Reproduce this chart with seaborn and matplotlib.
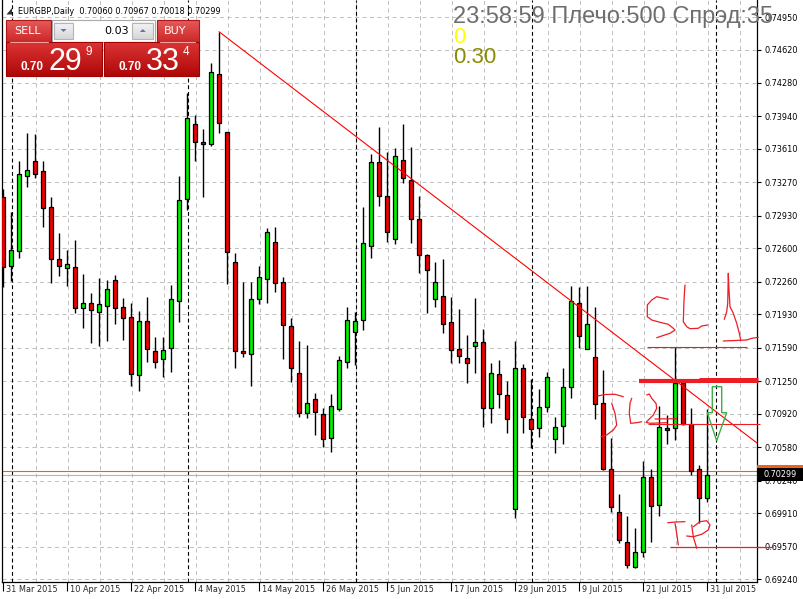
import numpy as np
import pandas as pd
import matplotlib
matplotlib.use("Agg")
import matplotlib.pyplot as plt
import matplotlib.transforms as mtrans
from matplotlib.colors import LinearSegmentedColormap
from matplotlib.patches import Rectangle, Polygon
import seaborn as sns

sns.set_style("white")
plt.rcParams['font.family'] = ['DejaVu Sans']

# ---------------- data ----------------
symbol = "EURGBP"
timeframe = "Daily"
dates = pd.bdate_range("2015-03-31", "2015-07-31")

opens = [0.73118, 0.72417, 0.72570, 0.73332, 0.73487, 0.73386, 0.73017, 0.72489, 0.72397, 0.72407,
         0.71991, 0.72042, 0.71956, 0.72011, 0.72275, 0.72001, 0.71899, 0.71310, 0.71859, 0.71554,
         0.71473, 0.71584, 0.72062, 0.73098, 0.73860, 0.73680, 0.73657, 0.74371, 0.73779, 0.72464,
         0.71557, 0.71523, 0.72082, 0.72285, 0.72661, 0.72255, 0.71808, 0.71330, 0.70924, 0.71069,
         0.70914, 0.70670, 0.70965, 0.71442, 0.71753, 0.71869, 0.72624, 0.73474, 0.73129, 0.72692,
         0.73494, 0.73294, 0.72895, 0.72532, 0.72090, 0.72116, 0.71848, 0.71574, 0.71483, 0.71605,
         0.71645, 0.70975, 0.71320, 0.71107, 0.69949, 0.71381, 0.70863, 0.70771, 0.70985, 0.70660,
         0.70795, 0.71188, 0.72042, 0.71574, 0.71499, 0.71026, 0.70361, 0.69924, 0.69619, 0.69359,
         0.69512, 0.70274, 0.69989, 0.70771, 0.70771, 0.71229, 0.70815, 0.70355, 0.70060]
highs = [0.73203, 0.72966, 0.73487, 0.73775, 0.73762, 0.73487, 0.73122, 0.72756, 0.72583, 0.72685,
         0.72339, 0.72146, 0.72296, 0.72278, 0.72329, 0.72092, 0.72048, 0.71963, 0.72106, 0.71699,
         0.71699, 0.72227, 0.73335, 0.74181, 0.73955, 0.73812, 0.74480, 0.74801, 0.73785, 0.72550,
         0.72255, 0.72255, 0.72420, 0.72804, 0.72820, 0.72306, 0.71889, 0.71658, 0.71618, 0.71127,
         0.70975, 0.71120, 0.71506, 0.72007, 0.71950, 0.73023, 0.73558, 0.73830, 0.73582, 0.73616,
         0.73863, 0.73626, 0.73132, 0.72545, 0.72461, 0.72492, 0.72109, 0.71981, 0.71719, 0.72098,
         0.71777, 0.71435, 0.71465, 0.71252, 0.71658, 0.71422, 0.71269, 0.71168, 0.71344, 0.70889,
         0.71381, 0.72217, 0.72210, 0.72217, 0.72007, 0.71364, 0.70670, 0.70104, 0.69880, 0.69756,
         0.70439, 0.70355, 0.71001, 0.70907, 0.71594, 0.71269, 0.70975, 0.70399, 0.70967]
lows = [0.72204, 0.72271, 0.72505, 0.73226, 0.73318, 0.72820, 0.72251, 0.72319, 0.72220, 0.71946,
        0.71794, 0.71641, 0.71611, 0.71658, 0.71834, 0.71669, 0.71201, 0.71154, 0.71448, 0.71387,
        0.71296, 0.71347, 0.71855, 0.72989, 0.73490, 0.73125, 0.73643, 0.73769, 0.72238, 0.71387,
        0.71499, 0.71201, 0.72031, 0.72042, 0.72156, 0.71479, 0.71245, 0.70889, 0.70879, 0.70703,
        0.70585, 0.70534, 0.70950, 0.71381, 0.71415, 0.71770, 0.72505, 0.73030, 0.72667, 0.72641,
        0.73261, 0.72651, 0.72346, 0.71940, 0.72007, 0.71737, 0.71432, 0.71432, 0.71235, 0.71330,
        0.70788, 0.70828, 0.70981, 0.70727, 0.69857, 0.70721, 0.70568, 0.70686, 0.70940, 0.70524,
        0.70609, 0.71076, 0.71584, 0.71574, 0.70863, 0.70350, 0.69918, 0.69603, 0.69349, 0.69355,
        0.69461, 0.69619, 0.69877, 0.70612, 0.70653, 0.70805, 0.70297, 0.69809, 0.70018]
closes = [0.72407, 0.72580, 0.73352, 0.73396, 0.73352, 0.73007, 0.72489, 0.72417, 0.72438, 0.71991,
          0.72042, 0.71970, 0.72031, 0.72184, 0.71997, 0.71889, 0.71320, 0.71859, 0.71574, 0.71442,
          0.71564, 0.72082, 0.73088, 0.73921, 0.73677, 0.73660, 0.74395, 0.73870, 0.72566, 0.71557,
          0.71534, 0.72082, 0.72306, 0.72763, 0.72245, 0.71818, 0.71387, 0.70924, 0.71026, 0.70940,
          0.70660, 0.70995, 0.71465, 0.71869, 0.71859, 0.72651, 0.73474, 0.73129, 0.72763, 0.73541,
          0.73312, 0.72895, 0.72532, 0.72377, 0.72263, 0.71828, 0.71564, 0.71503, 0.71432, 0.71645,
          0.70975, 0.71330, 0.71117, 0.70863, 0.71381, 0.70883, 0.70761, 0.70991, 0.71290, 0.70782,
          0.71188, 0.72068, 0.71706, 0.71828, 0.71015, 0.70355, 0.69969, 0.69637, 0.69383, 0.69512,
          0.70274, 0.69982, 0.70782, 0.70751, 0.71229, 0.70815, 0.70341, 0.70060, 0.70299]

ytick_values = [0.74950, 0.74620, 0.74280, 0.73940, 0.73610, 0.73270, 0.72930, 0.72600, 0.72260,
                0.71930, 0.71590, 0.71250, 0.70920, 0.70580, 0.70240, 0.69910, 0.69570, 0.69240]
bid = 0.70299
ask = 0.70334
trend_x = [27, 94.25]
trend_y = [0.74801, 0.70622]
sl_level = 0.71594
entry_levels = [0.71250, 0.71265]
pending_level = 0.70815
tp_level = 0.69565

GREEN = '#00ee00'
RED = '#f00000'
PEN = '#ee1c25'
SMALL = 5.9

# ---------------- figure ----------------
W, H = 804, 599
fig = plt.figure(figsize=(W / 100, H / 100), dpi=100)
fig.patch.set_facecolor('white')
L, R, T, B = 2, 757, 0, 582
ax = fig.add_axes([L / W, 1 - B / H, (R - L) / W, (B - T) / H])
ax.set_facecolor('white')
ax.set_xlim(-0.125, 94.25)
ax.set_ylim(0.69210, 0.75123)

df = pd.DataFrame({'x': np.arange(len(dates)), 'open': opens, 'high': highs,
                   'low': lows, 'close': closes})
df['bull'] = df['close'] >= df['open']

# grid
grid_kw = dict(color='#c0c0c0', lw=0.72, ls=(0, (4, 3.5)), zorder=1)
for yv in ytick_values:
    ax.axhline(yv, **grid_kw)
for xv in range(4, 95, 4):
    ax.axvline(xv + 0.09, **grid_kw)

# period separators (first bar of each month)
seps = [i for i in range(1, len(dates)) if dates[i].month != dates[i - 1].month] + [len(dates)]
for s in seps:
    ax.axvline(s + 0.09, color='black', lw=0.8, ls=(0, (3.5, 2.5)), zorder=1.5)

# bid / ask lines
ax.axhline(ask, color='#e8602a', lw=0.8, zorder=2)
ax.axhline(bid, color='#b4b4b4', lw=0.8, zorder=2)

# candles
ax.vlines(df['x'], df['low'], df['high'], color='black', lw=1.0, zorder=3)
bottoms = np.minimum(df['open'], df['close'])
heights = np.maximum((df['close'] - df['open']).abs(), 0.00012)
ax.bar(df['x'], heights, bottom=bottoms, width=0.52,
       color=np.where(df['bull'], GREEN, RED), edgecolor='black', linewidth=0.9, zorder=4)

# trend line & levels
ax.plot(trend_x, trend_y, color='#ff0000', lw=0.8, zorder=5)
ax.hlines(sl_level, 80.5, 93.0, color=PEN, lw=0.8, zorder=5)
ax.hlines(entry_levels[0], 79.5, 87.2, color=PEN, lw=3.0, zorder=5)
ax.hlines(entry_levels[1], 87.0, 94.4, color=PEN, lw=3.6, zorder=5, clip_on=False)
ax.hlines(pending_level, 80.6, 94.6, color=PEN, lw=0.8, zorder=5, clip_on=False)
ax.hlines(tp_level, 83.4, 96.25, color=PEN, lw=0.9, zorder=5, clip_on=False)

# axes styling
for side in ['left', 'right', 'bottom']:
    ax.spines[side].set_visible(True)
    ax.spines[side].set_color('black')
    ax.spines[side].set_linewidth(0.9)
ax.spines['top'].set_visible(False)
ax.yaxis.tick_right()
ax.set_yticks(ytick_values)
ax.set_yticklabels([f"{v:.5f}" for v in ytick_values])
ax.tick_params(axis='y', which='both', right=True, left=False, length=3, width=0.8,
               pad=2.2, labelsize=SMALL, colors='black')
label_idx = list(range(0, len(dates), 8))
ax.set_xticks(label_idx)
ax.set_xticklabels([])
ax.tick_params(axis='x', length=6.5, width=0.8, direction='out', colors='black', bottom=True)
lab_tr = mtrans.blended_transform_factory(ax.transData, ax.transAxes) + \
    mtrans.ScaledTranslation(3.5 / 100, -7.5 / 100, fig.dpi_scale_trans)
for i in label_idx:
    d = dates[i]
    ax.text(i, 0, f"{d.day} {d.strftime('%b')} {d.year}", transform=lab_tr,
            ha='left', va='center', fontsize=SMALL, clip_on=False)

# right price labels (ask box hidden behind bid box)
bl = mtrans.blended_transform_factory(ax.transAxes, ax.transData)
bw = 47 / (R - L)
bh = 13 * (0.75123 - 0.69210) / (B - T)
ax.add_patch(Rectangle((1.0, ask - bh / 2), bw, bh, transform=bl, facecolor='#f06020',
                       edgecolor='none', clip_on=False, zorder=8))
ax.add_patch(Rectangle((1.0, bid - bh / 2), bw, bh, transform=bl, facecolor='black',
                       edgecolor='none', clip_on=False, zorder=9))
ax.text(1.0 + 7 / (R - L), bid, f"{bid:.5f}", transform=bl, color='white', fontsize=SMALL,
        va='center', ha='left', clip_on=False, zorder=9.5)

# ---------------- overlay (pixel coordinates) ----------------
ov = fig.add_axes([0, 0, 1, 1], zorder=10)
ov.set_axis_off()
ov.patch.set_alpha(0)


def stroke(pts, color=PEN, lw=0.9):
    p = np.array(pts)
    ov.plot(p[:, 0], p[:, 1], color=color, lw=lw, solid_capstyle='round', solid_joinstyle='round')


# handwriting "SL"
stroke([(668.3, 299.3), (656.7, 296.7), (651.7, 300), (647.3, 305), (647.3, 316.7), (651.7, 320),
        (660, 322.3), (668.3, 324.3), (673.3, 328.3), (675, 330), (670, 333.3), (661.7, 336),
        (656.7, 337.7)])
stroke([(685, 285), (684, 300), (683.3, 321.7), (686.7, 326.7), (690, 328.7), (698.3, 328.3),
        (701.7, 326), (707.7, 325)])
stroke([(724.3, 319.3), (726.7, 311.7), (727.7, 303.3), (728.3, 273.3), (729, 290), (730, 306.7),
        (733.3, 313.3), (736.7, 323.3), (739.3, 333.3), (740.7, 340)])
stroke([(723.3, 341), (746.7, 340), (751.7, 338.3), (758.3, 337.3)])
# handwriting "PL2"
stroke([(597.3, 396), (605, 394.5), (615, 394.3), (623.3, 396.7)])
stroke([(611.7, 403.3), (615, 413.3), (616.7, 425), (613.3, 430), (606.7, 435), (601, 437)])
stroke([(631.7, 398.3), (630, 403.3), (629.3, 413.3), (630.7, 423.3), (636.7, 422.7), (641.7, 421.7)])
stroke([(646.7, 395), (649.3, 394), (651.7, 398.3), (656, 403.3), (656.7, 408.3), (653.3, 415),
        (648.3, 420), (646, 422.3), (650, 423.3), (666.7, 422.7)])
stroke([(655, 419), (676.7, 418.7)])
# handwriting "TP"
stroke([(667.7, 522.7), (676, 522), (685, 521.7)])
stroke([(675, 523.3), (676.7, 533.3), (678.3, 545)])
stroke([(691.7, 525), (693.3, 536.7), (696.7, 548.3)])
stroke([(693.3, 526.7), (700, 521.7), (706.7, 520.7), (710, 525), (708.3, 530), (701.7, 534.3),
        (693.3, 536.7), (686.7, 536)])
# green hollow arrow
ov.add_patch(Polygon([(712.3, 386.7), (721.7, 386.7), (721.7, 412.7), (726.7, 412.7), (716.7, 440.7),
                      (707.3, 412.7), (712.3, 412.7)], closed=True, fill=False,
                     edgecolor='#3cb043', lw=1.0))


def grad_box(x0, y0, x1, y1, c_top, c_bot, edge=None, z=11):
    cmap = LinearSegmentedColormap.from_list('g', [c_top, c_bot])
    ov.imshow(np.linspace(0, 1, 64).reshape(-1, 1), cmap=cmap, extent=(x0, x1, y1, y0),
              aspect='auto', origin='upper', interpolation='bilinear', zorder=z)
    if edge:
        ov.add_patch(Rectangle((x0, y0), x1 - x0, y1 - y0, fill=False, edgecolor=edge, lw=0.8,
                               zorder=z + 0.5))


# one-click trading panel
grad_box(6, 20, 51, 42, '#e65a5a', '#cc2828', '#b01818')
grad_box(157, 20, 199, 42, '#e65a5a', '#cc2828', '#b01818')
grad_box(6, 42, 102, 76, '#dc3434', '#ae0808', '#a00000')
grad_box(104, 42, 199, 76, '#dc3434', '#ae0808', '#a00000')
ov.plot([10, 48], [41.6, 41.6], color='#f2a0a0', lw=0.8, zorder=12)
ov.plot([160, 195], [41.6, 41.6], color='#f2a0a0', lw=0.8, zorder=12)
ov.add_patch(Rectangle((52, 20), 103, 21.5, facecolor='white', edgecolor='#a8a8a8', lw=0.8, zorder=11))
grad_box(54.3, 22.7, 72.7, 39.3, '#f6f6f6', '#d6d6d6', '#b4b4b4', z=12)
grad_box(132.3, 22.7, 153.3, 39.3, '#f6f6f6', '#d6d6d6', '#b4b4b4', z=12)
ov.add_patch(Polygon([(60.5, 29), (66.5, 29), (63.5, 32)], closed=True, facecolor='#5a78a8',
                     edgecolor='none', zorder=13))
ov.add_patch(Polygon([(139.8, 32), (145.8, 32), (142.8, 29)], closed=True, facecolor='#5a78a8',
                     edgecolor='none', zorder=13))
ov.text(129, 31, "0.03", ha='right', va='center', fontsize=8, color='black', zorder=13)
ov.text(28, 31, "SELL", ha='center', va='center', fontsize=8, color='white', zorder=13)
ov.text(175, 31, "BUY", ha='center', va='center', fontsize=8, color='white', zorder=13)
big = dict(family=['Liberation Sans', 'DejaVu Sans'], color='white', zorder=13, va='baseline', ha='left')
ov.text(20.7, 69.5, "0.70", fontsize=8.5, fontweight='bold', **big)
ov.text(48.5, 70, "29", fontsize=22, **big)
ov.text(85.5, 55, "9", fontsize=8.5, **big)
ov.text(118.3, 69.5, "0.70", fontsize=8.5, fontweight='bold', **big)
ov.text(146, 70, "33", fontsize=22, **big)
ov.text(182.2, 55, "4", fontsize=8.5, **big)

# header
ov.add_patch(Polygon([(6.5, 14.5), (12, 8), (12, 14.5)], closed=True, facecolor='#303030',
                     edgecolor='none', zorder=12))
ov.text(18.3, 11, f"{symbol},{timeframe}  {opens[-1]:.5f} {highs[-1]:.5f} {lows[-1]:.5f} {closes[-1]:.5f}",
        ha='left', va='center', fontsize=SMALL, color='black', zorder=12)

# account info text (clipped at chart edge)
clip = Rectangle((L, T), R - L, B - T, transform=ov.transData)
info = dict(family=['Liberation Sans', 'DejaVu Sans'], ha='left', va='baseline', zorder=12)
for txt, y, c, fs in [("23:58:59 Плечо:500 Спрэд:35", 22.7, '#6e6e6e', 17),
                      ("0", 43.3, '#ffff00', 16),
                      ("0.30", 63.3, '#8c8c00', 16)]:
    t = ov.text(453, y, txt, color=c, fontsize=fs, **info)
    t.set_clip_path(clip)

ov.set_xlim(0, W)
ov.set_ylim(H, 0)

fig.savefig("out.png", dpi=100)
